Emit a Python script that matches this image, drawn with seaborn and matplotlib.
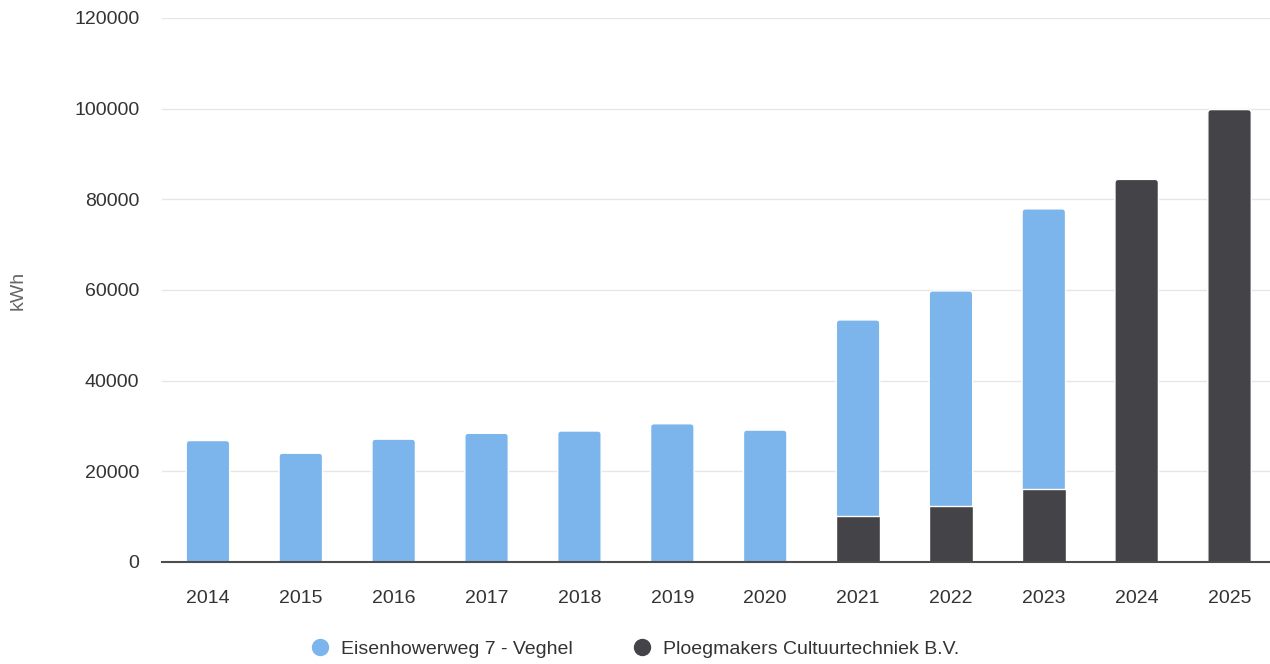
import numpy as np
import pandas as pd
import matplotlib
matplotlib.use("Agg")
import matplotlib.pyplot as plt
import seaborn as sns
from matplotlib.path import Path
from matplotlib.patches import PathPatch
from matplotlib.lines import Line2D

# Yearly energy production (kWh) per installation
years = [str(y) for y in range(2014, 2026)]
eisenhowerweg = [26800, 24000, 27100, 28400, 28900, 30500, 29100, 43200, 47500, 61800, 0, 0]
ploegmakers = [0, 0, 0, 0, 0, 0, 0, 10200, 12300, 16100, 84400, 99800]
series_names = ["Eisenhowerweg 7 - Veghel", "Ploegmakers Cultuurtechniek B.V."]
y_ticks = [0, 20000, 40000, 60000, 80000, 100000, 120000]

BLUE = "#7cb5ec"
DARK = "#434348"
TEXT = "#333333"
FS = 14

sns.set_theme(style="white")
plt.rcParams["font.family"] = ["Liberation Sans", "DejaVu Sans"]

W, H = 1270, 664
fig = plt.figure(figsize=(W / 100, H / 100), dpi=100)
ax_left, ax_right, ax_top, ax_bottom = 161.5, 1276, 18, 562
ax = fig.add_axes([ax_left / W, 1 - ax_bottom / H, (ax_right - ax_left) / W, (ax_bottom - ax_top) / H])

df = pd.DataFrame({
    "year": years,
    "total": [a + b for a, b in zip(eisenhowerweg, ploegmakers)],
    "ploegmakers": ploegmakers,
    "eisenhowerweg": eisenhowerweg,
})

bar_w = 0.468
# stacked bars: full totals in blue, the lower series drawn over them
sns.barplot(data=df, x="year", y="total", color=BLUE, saturation=1, width=bar_w,
            edgecolor="white", linewidth=1, ax=ax, zorder=2)
n_total = len(ax.patches)
sns.barplot(data=df, x="year", y="ploegmakers", color=DARK, saturation=1, width=bar_w,
            edgecolor="white", linewidth=1, ax=ax, zorder=3)

ax.set_xlim(-0.5, len(years) - 0.5)
ax.set_ylim(0, 120000)

# round the top corners of the uppermost segment of each stack
px_x = (ax_right - ax_left) / len(years)
px_y = (ax_bottom - ax_top) / 120000
radius = 3.5
rx, ry = radius / px_x, radius / px_y


def rounded_top(rect):
    x0, y0 = rect.get_x(), rect.get_y()
    x1, y1 = x0 + rect.get_width(), y0 + rect.get_height()
    verts = [(x0, y0), (x1, y0), (x1, y1 - ry), (x1, y1), (x1 - rx, y1),
             (x0 + rx, y1), (x0, y1), (x0, y1 - ry), (x0, y0)]
    codes = [Path.MOVETO, Path.LINETO, Path.LINETO, Path.CURVE3, Path.CURVE3,
             Path.LINETO, Path.CURVE3, Path.CURVE3, Path.CLOSEPOLY]
    patch = PathPatch(Path(verts, codes), facecolor=rect.get_facecolor(),
                      edgecolor="white", linewidth=1, zorder=rect.get_zorder())
    rect.set_visible(False)
    ax.add_patch(patch)


patches = list(ax.patches)
for rect in patches[:n_total]:
    if rect.get_height() > 0:
        rounded_top(rect)
for i, rect in enumerate(patches[n_total:]):
    if rect.get_height() > 0 and eisenhowerweg[i] == 0:
        rounded_top(rect)

# axes styling
ax.set_yticks(y_ticks)
ax.set_yticklabels([str(v) for v in y_ticks])
ax.yaxis.grid(True, color="#e6e6e6", linewidth=1)
ax.set_axisbelow(True)
for side in ["top", "right", "left"]:
    ax.spines[side].set_visible(False)
ax.spines["bottom"].set_color("#4d4d4d")
ax.spines["bottom"].set_linewidth(1.5)
ax.spines["bottom"].set_zorder(5)
ax.tick_params(axis="y", length=0, pad=16, labelsize=FS, labelcolor=TEXT)
ax.tick_params(axis="x", length=0, pad=20.5, labelsize=FS, labelcolor=TEXT)
ax.set_xlabel("")
ax.set_ylabel("")

fig.text(18 / W, 1 - 290 / H, "kWh", rotation=90, ha="center", va="center",
         fontsize=FS, color="#666666")

handles = [Line2D([], [], marker="o", linestyle="none", markersize=11.5,
                  markerfacecolor=c, markeredgecolor=c) for c in (BLUE, DARK)]
fig.legend(handles, series_names, loc="center", bbox_to_anchor=(0.499, 1 - 649 / H),
           ncol=2, frameon=False, fontsize=FS, labelcolor=TEXT,
           handlelength=1.2, handletextpad=0.48, columnspacing=3.0,
           borderpad=0, borderaxespad=0)

fig.savefig("out.png", dpi=100)
